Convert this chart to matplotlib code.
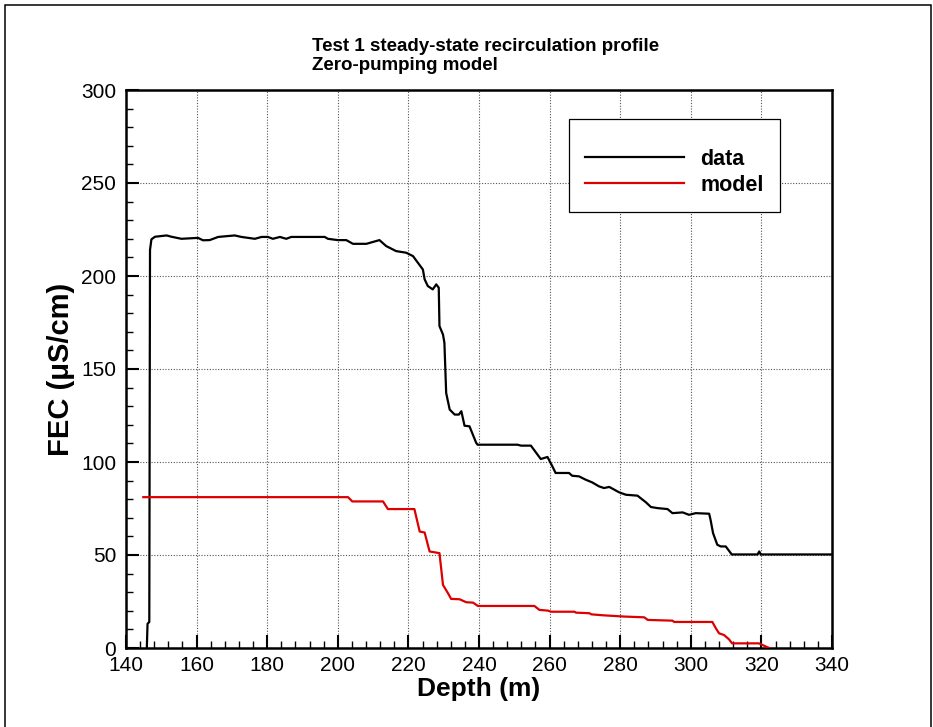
import matplotlib
matplotlib.use("Agg")
import matplotlib.pyplot as plt
from matplotlib.patches import Rectangle
from matplotlib.ticker import MultipleLocator

# Measured FEC profile (depth in m, FEC in uS/cm)
data_depth = [145.9, 146.1, 146.6, 146.8, 147.2, 148.2, 151.5, 152.9, 155.7, 160.4,
              161.8, 163.7, 166.1, 170.8, 172.7, 176.5, 178.4, 180.2, 181.6, 183.6,
              185.4, 186.8, 196.3, 197.2, 200.0, 202.4, 204.3, 208.1, 211.8, 213.7,
              216.5, 219.4, 221.3, 222.7, 224.1, 224.6, 225.5, 226.9, 227.9, 228.6,
              228.8, 229.8, 230.2, 230.7, 231.7, 233.1, 234.3, 235.0, 235.9, 237.3,
              239.2, 239.6, 250.9, 251.9, 254.7, 257.5, 259.4, 260.8, 261.7, 265.5,
              266.4, 268.3, 270.2, 272.1, 274.0, 275.4, 276.9, 279.7, 281.6, 284.9,
              287.3, 288.7, 290.6, 293.4, 294.8, 297.7, 299.5, 301.4, 305.2, 305.6,
              306.3, 307.5, 308.5, 309.9, 311.6, 318.9, 319.4, 319.8, 340.0]
data_fec = [0.0, 13.0, 14.0, 214.0, 219.7, 221.1, 221.8, 221.1, 220.0, 220.5,
            219.2, 219.3, 221.0, 221.8, 221.0, 220.0, 221.0, 221.0, 220.0, 221.0,
            220.0, 221.0, 221.0, 220.0, 219.3, 219.3, 217.3, 217.3, 219.3, 216.1,
            213.4, 212.5, 210.7, 207.1, 203.5, 198.2, 194.6, 192.8, 195.5, 193.7,
            173.1, 168.5, 164.1, 137.1, 128.2, 125.5, 125.5, 127.3, 119.5, 119.2,
            110.3, 109.3, 109.3, 108.8, 108.8, 101.6, 102.7, 97.6, 94.1, 94.1,
            92.6, 92.3, 90.5, 89.0, 86.9, 86.0, 86.6, 83.7, 82.4, 81.9,
            78.3, 75.8, 75.2, 74.7, 72.5, 72.9, 71.6, 72.5, 72.2, 68.9,
            61.8, 55.5, 54.6, 54.6, 50.3, 50.3, 51.9, 50.3, 50.3]

# Zero-pumping model profile
model_depth = [144.9, 202.9, 204.1, 212.8, 214.2, 221.7, 223.2, 224.6, 226.0, 228.8,
               229.8, 231.2, 232.1, 234.5, 236.4, 238.3, 239.7, 255.7, 257.1, 259.5,
               260.4, 267.0, 267.5, 271.3, 271.8, 275.0, 281.2, 286.8, 287.8, 294.8,
               295.3, 306.1, 307.1, 308.0, 309.4, 310.8, 311.7, 319.3, 321.7, 322.3]
model_fec = [81.1, 81.1, 78.8, 78.8, 74.7, 74.7, 62.6, 62.1, 51.9, 51.0,
             33.9, 29.5, 26.4, 26.2, 24.6, 24.4, 22.6, 22.6, 20.5, 20.1,
             19.5, 19.5, 19.0, 18.7, 18.1, 17.6, 16.9, 16.5, 15.1, 14.7,
             14.0, 14.0, 10.6, 7.9, 7.0, 4.7, 2.5, 2.5, 0.4, 0.0]

title_lines = ["Test 1 steady-state recirculation profile", "Zero-pumping model"]

plt.rcParams["font.family"] = ["Liberation Sans", "DejaVu Sans"]

W, H = 933, 727
fig = plt.figure(figsize=(W / 100, H / 100), dpi=100)
ax = fig.add_axes([126 / W, 1 - 648 / H, 706 / W, 558 / H])

ax.plot(data_depth, data_fec, color="black", lw=1.6, label="data", zorder=3)
ax.plot(model_depth, model_fec, color="#dd0000", lw=1.6, label="model", zorder=3)

ax.set_xlim(140, 340)
ax.set_ylim(0, 300)
ax.xaxis.set_major_locator(MultipleLocator(20))
ax.xaxis.set_minor_locator(MultipleLocator(4))
ax.yaxis.set_major_locator(MultipleLocator(50))
ax.yaxis.set_minor_locator(MultipleLocator(10))

ax.grid(True, which="major", color="#555555", lw=0.8, linestyle=(0, (1, 1.5)))
ax.tick_params(which="both", direction="in", top=False, right=False)
ax.tick_params(which="major", length=9.5, width=1.5, labelsize=15)
ax.tick_params(axis="x", which="major", pad=5.5)
ax.tick_params(axis="y", which="major", pad=7)
ax.tick_params(which="minor", length=5, width=1)
for s in ax.spines.values():
    s.set_linewidth(1.8)

# Axis labels, centred where the reference has them
ax.set_xlabel("Depth (m)", fontsize=19, fontweight="bold", va="center")
ax.xaxis.set_label_coords(0.5, -0.073)
ax.set_ylabel("FEC (μS/cm)", fontsize=21, fontweight="bold", va="center")
ax.yaxis.set_label_coords(-0.092, 0.5)

# Title, left aligned, two lines
fig.text(312 / W, 1 - 51 / H, title_lines[0], fontsize=13.5, fontweight="bold", va="baseline")
fig.text(312 / W, 1 - 69.5 / H, title_lines[1], fontsize=13.5, fontweight="bold", va="baseline")

leg = ax.legend(loc="upper left", bbox_to_anchor=(569 / W, 1 - 119 / H),
                bbox_transform=fig.transFigure, borderaxespad=0,
                prop={"size": 15.5, "weight": "bold"}, handlelength=4.6,
                handletextpad=0.75, labelspacing=0.22, borderpad=0.75,
                title=" ", title_fontsize=6.5,
                fancybox=False, framealpha=1, edgecolor="black")
leg.get_frame().set_linewidth(0.9)

# Outer frame of the plot page
fig.patches.append(Rectangle((5 / W, -0.1), 926 / W, 1.1 - 5 / H, fill=False,
                             edgecolor="black", lw=1.1, transform=fig.transFigure))

fig.savefig("out.png", dpi=100)
